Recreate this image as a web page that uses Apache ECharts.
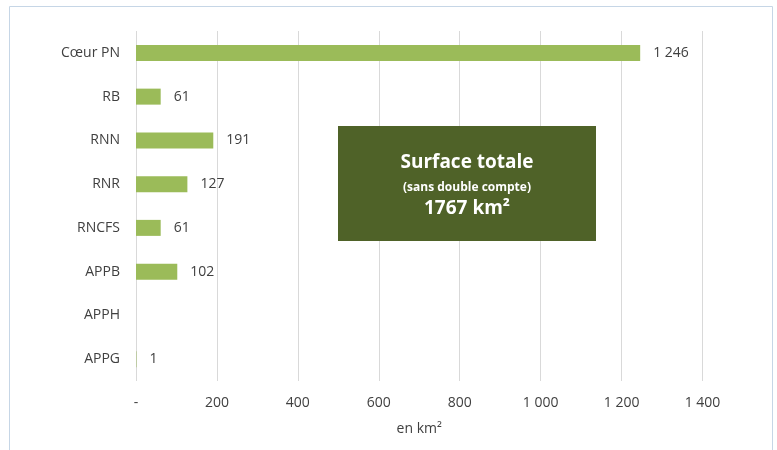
<!DOCTYPE html>
<html>
<head>
<meta charset="utf-8">
<script src="https://cdn.jsdelivr.net/npm/echarts@6/dist/echarts.min.js"></script>
<style>
  html, body { margin: 0; padding: 0; background: #ffffff; }
  #chart { width: 777px; height: 450px; }
</style>
</head>
<body>
<div id="chart"></div>
<script>
// Surfaces des espaces protégés (km²)
const categories = ['Cœur PN', 'RB', 'RNN', 'RNR', 'RNCFS', 'APPB', 'APPH', 'APPG'];
const surfaces = [1246, 61, 191, 127, 61, 102, null, 1];
const axisTicks = [0, 200, 400, 600, 800, 1000, 1200, 1400];
const totalTitle = 'Surface totale';
const totalNote = '(sans double compte)';
const totalValue = '1767 km²';

const FONT = '"Open Sans", sans-serif';
const TEXT = '#404040';

// French thousands separator, "-" for zero
function frNumber(v) {
  if (v === 0) return '-';
  const s = String(Math.round(v));
  return s.replace(/\B(?=(\d{3})+(?!\d))/g, ' ');
}

const chart = echarts.init(document.getElementById('chart'), null, { renderer: 'canvas' });

// Summary box geometry
const BOX = { x: 338, y: 126, w: 258, h: 115 };
const cx = BOX.x + BOX.w / 2;

function boxText(text, y, font) {
  return {
    type: 'text', x: cx, y: y, z: 101,
    style: { text: text, fill: '#ffffff', font: font, align: 'center', verticalAlign: 'middle' }
  };
}

chart.setOption({
  backgroundColor: '#ffffff',
  animation: false,
  grid: { left: 136, right: 74.5, top: 31, bottom: 69 },
  xAxis: {
    type: 'value',
    min: axisTicks[0],
    max: axisTicks[axisTicks.length - 1],
    interval: axisTicks[1] - axisTicks[0],
    name: 'en km²',
    nameLocation: 'middle',
    nameGap: 41,
    nameTextStyle: { color: TEXT, fontFamily: FONT, fontSize: 14 },
    axisLine: { show: false },
    axisTick: { show: false },
    axisLabel: {
      color: TEXT, fontFamily: FONT, fontSize: 14, margin: 15,
      formatter: frNumber
    },
    splitLine: { show: true, lineStyle: { color: '#D9D9D9', width: 1 } }
  },
  yAxis: {
    type: 'category',
    data: categories,
    inverse: true,
    axisLine: { show: false },
    axisTick: { show: false },
    axisLabel: { color: TEXT, fontFamily: FONT, fontSize: 14, margin: 16 }
  },
  series: [{
    type: 'bar',
    data: surfaces,
    barWidth: 16,
    itemStyle: { color: '#9BBB59' },
    label: {
      show: true,
      position: 'right',
      distance: 13,
      color: TEXT,
      fontFamily: FONT,
      fontSize: 14,
      formatter: p => (p.value == null ? '' : frNumber(p.value))
    }
  }],
  graphic: [
    {
      type: 'rect', x: 9.5, y: 6.5, z: 0, silent: true,
      shape: { width: 763, height: 460 },
      style: { fill: 'none', stroke: '#C6D6E6', lineWidth: 1 }
    },
    {
      type: 'rect', x: BOX.x, y: BOX.y, z: 100,
      shape: { width: BOX.w, height: BOX.h },
      style: { fill: '#4F6228' }
    },
    boxText(totalTitle, 163, 'bold 19px ' + FONT),
    boxText(totalNote, 188, 'bold 12px ' + FONT),
    boxText(totalValue, 209, 'bold 19px ' + FONT)
  ]
});
</script>
</body>
</html>
